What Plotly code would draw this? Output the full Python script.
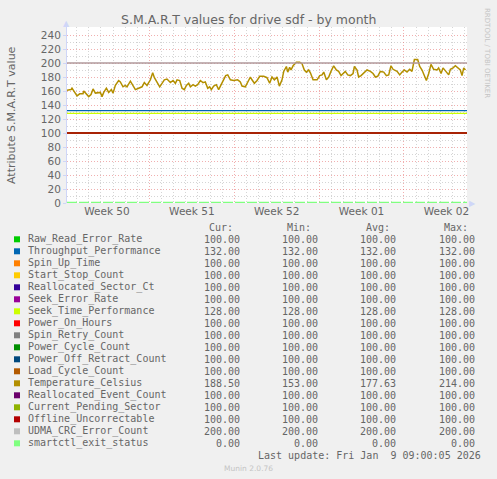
import plotly.graph_objects as go

# ---------------- data ----------------
series_names = [
    "Raw_Read_Error_Rate", "Throughput_Performance", "Spin_Up_Time", "Start_Stop_Count",
    "Reallocated_Sector_Ct", "Seek_Error_Rate", "Seek_Time_Performance", "Power_On_Hours",
    "Spin_Retry_Count", "Power_Cycle_Count", "Power_Off_Retract_Count", "Load_Cycle_Count",
    "Temperature_Celsius", "Reallocated_Event_Count", "Current_Pending_Sector",
    "Offline_Uncorrectable", "UDMA_CRC_Error_Count", "smartctl_exit_status",
]
series_colors = [
    "#00CC00", "#0066B3", "#FF8000", "#FFCC00", "#330099", "#990099", "#CCFF00", "#FF0000",
    "#808080", "#008F00", "#00487D", "#B35A00", "#B38F00", "#6B006B", "#8FB300", "#B30000",
    "#BEBEBE", "#80FF80",
]
cur_values = [100, 132, 100, 100, 100, 100, 128, 100, 100, 100, 100, 100, 188.50, 100, 100, 100, 200, 0]
min_values = [100, 132, 100, 100, 100, 100, 128, 100, 100, 100, 100, 100, 153.00, 100, 100, 100, 200, 0]
avg_values = [100, 132, 100, 100, 100, 100, 128, 100, 100, 100, 100, 100, 177.63, 100, 100, 100, 200, 0]
max_values = [100, 132, 100, 100, 100, 100, 128, 100, 100, 100, 100, 100, 214.00, 100, 100, 100, 200, 0]

# Temperature_Celsius trace (days since graph start)
temp_day = [
    0.00, 0.33, 0.41, 0.61, 0.83, 1.05, 1.32, 1.38, 1.60, 1.79, 1.98, 2.15, 2.34, 2.75, 2.89,
    3.03, 3.25, 3.44, 3.66, 3.80, 3.99, 4.26, 4.40, 4.62, 4.81, 4.95, 5.23, 5.45, 5.64, 5.91,
    6.19, 6.38, 6.60, 6.88, 7.07, 7.21, 7.43, 7.65, 7.84, 8.03, 8.25, 8.53, 8.75, 8.94, 9.08,
    9.30, 9.49, 9.68, 9.85, 10.04, 10.18, 10.40, 10.59, 10.78, 11.00, 11.22, 11.41, 11.61,
    11.77, 11.91, 12.10, 12.32, 12.51, 12.65, 12.87, 13.09, 13.26, 13.48, 13.75, 14.08, 14.30,
    14.44, 14.71, 14.91, 15.13, 15.26, 15.46, 15.68, 15.90, 16.23, 16.50, 16.72, 16.91, 17.11,
    17.33, 17.52, 17.74, 17.88, 18.10, 18.21, 18.37, 18.48, 18.65, 18.92, 19.20, 19.39, 19.58,
    19.75, 19.94, 20.08, 20.30, 20.63, 20.85, 21.04, 21.18, 21.40, 21.59, 21.78, 22.00, 22.22,
    22.41, 22.61, 22.83, 22.96, 23.16, 23.38, 23.60, 23.71, 23.93, 24.06, 24.26, 24.53, 24.75,
    25.03, 25.25, 25.44, 25.63, 25.85, 26.13, 26.35, 26.54, 26.73, 26.90, 27.23, 27.45, 27.64,
    27.83, 28.05, 28.27, 28.46, 28.66, 28.93, 29.10, 29.29, 29.43, 29.65, 29.84, 30.03, 30.25,
    30.53, 30.66, 30.86, 31.02, 31.30, 31.49, 31.63, 31.85, 32.04, 32.23, 32.45, 32.59, 32.73,
    32.87,
]
temp_value = [
    161, 162, 164, 158, 153, 156, 156, 160, 155, 152, 155, 163, 157, 158, 152,
    158, 164, 158, 162, 157, 168, 175, 173, 166, 168, 166, 174, 168, 162, 164,
    166, 172, 168, 176, 186, 179, 172, 166, 171, 176, 177, 172, 175, 171, 176,
    175, 164, 162, 168, 171, 166, 169, 167, 169, 175, 172, 173, 164,
    166, 162, 167, 169, 162, 167, 173, 182, 183, 176, 175, 176, 173,
    167, 166, 173, 180, 176, 171, 175, 181, 181, 179, 171, 180, 176,
    180, 167, 176, 188, 195, 187, 194, 190, 196, 201, 201, 199, 190,
    187, 190, 186, 176, 176, 182, 183, 187, 176, 180, 188, 196, 190,
    188, 182, 185, 188, 183, 182, 185, 195, 190, 180, 182, 186, 190,
    188, 185, 180, 181, 188, 187, 182, 183, 196, 191, 188, 183, 187,
    190, 187, 191, 188, 205, 205, 195, 190, 183, 175, 185, 198, 191,
    190, 193, 185, 193, 186, 183, 191, 193, 196, 193, 190, 182, 193,
    190,
]

x_range = [0, 33]
week_bounds = [6.8, 13.8, 20.8, 27.8]
week_label_pos = [3.3, 10.3, 17.3, 24.3, 31.3]
week_labels = ["Week 50", "Week 51", "Week 52", "Week 01", "Week 02"]
day_lines = [round(0.8 + k, 1) for k in range(33)]
day_lines = [d for d in day_lines if d not in week_bounds]
y_major = list(range(0, 241, 20))
y_minor = list(range(10, 251, 20))

title_text = "S.M.A.R.T values for drive sdf - by month"
y_title = "Attribute S.M.A.R.T value"
last_update = "Last update: Fri Jan\u00a0\u00a09 09:00:05 2026"
munin_ver = "Munin 2.0.76"
rrd_credit = "RRDTOOL / TOBI OETIKER"

# ---------------- layout geometry ----------------
W, H = 497, 479
ML, MR, MT, MB = 67, 30, 27, 276
PW = W - ML - MR
PH = H - MT - MB
FONT_COL = "#666666"
AXIS_COL = "#CFD6F8"


def px(xp):
    return (xp - ML) / PW


def py(yp):
    return (H - MB - yp) / PH


fig = go.Figure()

for i, name in enumerate(series_names):
    col = series_colors[i]
    if name == "Temperature_Celsius":
        fig.add_trace(go.Scatter(x=temp_day, y=temp_value, mode="lines",
                                 line=dict(color=col, width=1.5), name=name,
                                 hoverinfo="skip"))
    else:
        dash = None
        width = 1.4
        if name == "UDMA_CRC_Error_Count":
            col = "#B09A9C"
        if name == "smartctl_exit_status":
            dash = "10px,2px"
            width = 2.5
        fig.add_trace(go.Scatter(x=x_range, y=[cur_values[i], cur_values[i]], mode="lines",
                                 line=dict(color=col, width=width, dash=dash), name=name,
                                 hoverinfo="skip", cliponaxis=False))

# helper trace for the week-grid overlay axis
fig.add_trace(go.Scatter(x=[x_range[0]], y=[0], xaxis="x2", mode="markers",
                         marker=dict(opacity=0), hoverinfo="skip", showlegend=False))

grid_gray = "rgba(150,150,150,0.40)"
grid_red = "rgba(230,110,110,0.55)"
GDASH = "1px,2px"

fig.update_layout(
    width=W, height=H,
    margin=dict(l=ML, r=MR, t=MT, b=MB),
    paper_bgcolor="#F0F0F0", plot_bgcolor="#FFFFFF",
    showlegend=False,
    font=dict(family="DejaVu Sans", color=FONT_COL, size=10),
    xaxis=dict(range=x_range, tickmode="array", tickvals=week_label_pos, ticktext=week_labels,
               showgrid=False, zeroline=False, showline=False, ticks="",
               tickfont=dict(size=10.5, color=FONT_COL),
               minor=dict(tickvals=day_lines, showgrid=True, gridcolor=grid_gray,
                          griddash=GDASH, gridwidth=1, ticks="")),
    xaxis2=dict(range=x_range, overlaying="x", anchor="y", tickmode="array",
                tickvals=week_bounds, showticklabels=False, ticks="",
                showgrid=True, gridcolor=grid_red, griddash=GDASH, gridwidth=1,
                zeroline=False, showline=False),
    yaxis=dict(range=[0, PH / 0.7], tickmode="array", tickvals=y_major,
               showgrid=True, gridcolor=grid_red, griddash=GDASH, gridwidth=1,
               zeroline=False, showline=True, linecolor=AXIS_COL, linewidth=1,
               ticks="outside", ticklen=3, tickcolor=AXIS_COL,
               tickfont=dict(size=10.5, color=FONT_COL),
               minor=dict(tickvals=y_minor, showgrid=True, gridcolor=grid_gray,
                          griddash=GDASH, gridwidth=1, ticks="")),
)

ann = []
ann.append(dict(text=title_text, x=px(248), y=py(19), xref="paper", yref="paper",
                showarrow=False, font=dict(size=12.5, color=FONT_COL), xanchor="center", yanchor="middle"))
ann.append(dict(text=y_title, x=px(11), y=py(115), xref="paper", yref="paper", textangle=-90,
                showarrow=False, font=dict(size=11, color=FONT_COL), xanchor="center", yanchor="middle"))
ann.append(dict(text=rrd_credit, x=px(487), y=py(53), xref="paper", yref="paper", textangle=90,
                showarrow=False, font=dict(size=7, color="#C4C4C4"), xanchor="center", yanchor="middle"))
ann.append(dict(text="\u25B2", x=px(66.7), y=py(24), xref="paper", yref="paper", showarrow=False,
                font=dict(size=8, color=AXIS_COL), xanchor="center", yanchor="middle"))
ann.append(dict(text="\u25B6", x=px(472), y=py(203), xref="paper", yref="paper", showarrow=False,
                font=dict(size=8, color=AXIS_COL), xanchor="center", yanchor="middle"))

mono = dict(family="DejaVu Sans Mono", size=10, color=FONT_COL)
col_hdr = [("Cur:", 235), ("Min:", 313), ("Avg:", 392), ("Max:", 470)]
for t, xr in col_hdr:
    ann.append(dict(text=t, x=px(xr), y=py(227.3), xref="paper", yref="paper", showarrow=False,
                    font=mono, xanchor="right", yanchor="middle"))

shapes = []
row0, rstep = 239.3, 12.0
for i, name in enumerate(series_names):
    yc = row0 + i * rstep
    shapes.append(dict(type="rect", xref="paper", yref="paper", x0=px(14), x1=px(20),
                       y0=py(yc + 3), y1=py(yc - 3), fillcolor=series_colors[i],
                       line=dict(width=0)))
    ann.append(dict(text=name, x=px(26), y=py(yc), xref="paper", yref="paper", showarrow=False,
                    font=mono, xanchor="left", yanchor="middle"))
    for vals, xr in [(cur_values, 242), (min_values, 320), (avg_values, 398), (max_values, 477)]:
        ann.append(dict(text=f"{vals[i]:.2f}", x=px(xr), y=py(yc), xref="paper", yref="paper",
                        showarrow=False, font=mono, xanchor="right", yanchor="middle"))

ann.append(dict(text=last_update, x=px(483), y=py(455.3), xref="paper", yref="paper",
                showarrow=False, font=mono, xanchor="right", yanchor="middle"))
ann.append(dict(text=munin_ver, x=px(248), y=py(468.5), xref="paper", yref="paper",
                showarrow=False, font=dict(size=7.5, color="#C4C4C4"), xanchor="center", yanchor="middle"))

fig.update_layout(annotations=ann, shapes=shapes)
fig.write_html(
    "out.html",
    config={"displayModeBar": False},
    post_script="document.body.style.margin='0';document.body.style.background='#F0F0F0';"
                "document.body.style.overflow='hidden';",
)
